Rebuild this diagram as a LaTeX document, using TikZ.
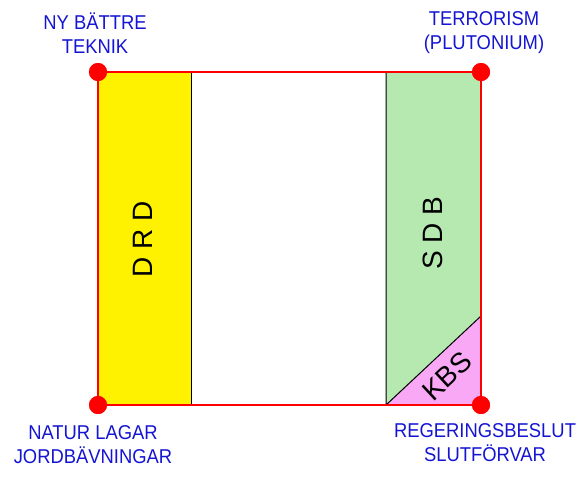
\documentclass[tikz,border=0pt]{standalone}
\usepackage{fontspec}
\setmainfont{Liberation Sans}
\newfontfamily\labelfont[FakeStretch=0.92]{Liberation Sans}

\definecolor{drdyellow}{RGB}{255,242,0}
\definecolor{sdbgreen}{RGB}{181,233,176}
\definecolor{kbspink}{RGB}{248,168,245}
\definecolor{labelblue}{RGB}{20,20,210}

\begin{document}
\begin{tikzpicture}[x=1pt, y=-1pt,
    corner_node/.style={circle, fill=red, inner sep=0pt, minimum size=18pt},
    label_node/.style={text=labelblue, align=center, inner sep=0pt, font=\labelfont\fontsize{20}{24}\selectfont},
    band_node/.style={inner sep=0pt, font=\fontsize{28}{30}\selectfont}]
    \useasboundingbox (0,0) rectangle (588,477);

    \coordinate (drd_tr) at (191,72);
    \coordinate (drd_br) at (191,405);
    \coordinate (sdb_tl) at (386,72);
    \coordinate (sdb_bl) at (386,405);
    \coordinate (kbs_t) at (481,316);

    \fill[drdyellow] (98,72) rectangle (drd_br);
    \fill[sdbgreen] (sdb_tl) rectangle (481,405);
    \fill[kbspink] (sdb_bl) -- (kbs_t) -- (481,405) -- cycle;

    \node[band_node, rotate=90] (drd) at (143,239) {D R D};
    \node[band_node, rotate=90] (sdb) at (433,233) {S D B};
    \node[band_node, rotate=43] (kbs) at (447,376) {KBS};

    \draw[black, line width=1pt] (drd_tr) -- (drd_br);
    \draw[black, line width=1pt] (sdb_tl) -- (sdb_bl) -- (kbs_t);

    \node[corner_node] (tl) at (98,72) {};
    \node[corner_node] (tr) at (481,72) {};
    \node[corner_node] (br) at (481,405) {};
    \node[corner_node] (bl) at (98,405) {};

\draw[red, line width=1.2pt] (tl.center) -- (tr.center) -- (br.center) -- (bl.center) -- cycle;
\node[corner_node] at (tl) {};
\node[corner_node] at (tr) {};
\node[corner_node] at (br) {};
\node[corner_node] at (bl) {};

    \node[label_node] (teknik) at (95,33) {NY BÄTTRE\\TEKNIK};
    \node[label_node] (terror) at (484,33) {TERRORISM\\(PLUTONIUM)};
    \node[label_node] (natur) at (93,445) {NATUR LAGAR\\JORDBÄVNINGAR};
    \node[label_node] (beslut) at (485,443) {REGERINGSBESLUT\\SLUTFÖRVAR};

\end{tikzpicture}
\end{document}
